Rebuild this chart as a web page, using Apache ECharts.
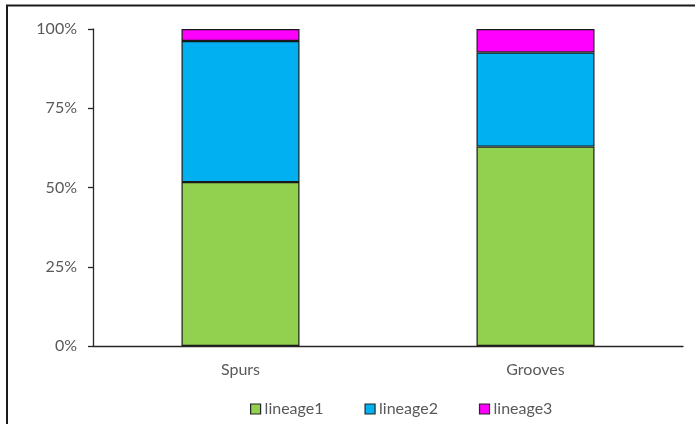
<!DOCTYPE html>
<html>
<head>
<meta charset="utf-8">
<script src="https://cdn.jsdelivr.net/npm/echarts@6/dist/echarts.min.js"></script>
<style>
  html, body { margin: 0; padding: 0; background: #fff; }
  #chart { width: 695px; height: 424px; }
</style>
</head>
<body>
<div id="chart"></div>
<script>
// Share of each lineage per habitat (percent, stacked to 100)
const categories = ['Spurs', 'Grooves'];
const lineage1 = [51.7, 62.9];
const lineage2 = [44.5, 29.7];
const lineage3 = [3.8, 7.4];
const seriesNames = ['lineage1', 'lineage2', 'lineage3'];
const seriesColors = ['#92D050', '#00B0F0', '#FF00FF'];
const yTicks = [0, 25, 50, 75, 100];

const font = 'Lato, "Open Sans", sans-serif';
const textGray = '#595959';

const chart = echarts.init(document.getElementById('chart'), null, { renderer: 'canvas' });

const seriesData = [lineage1, lineage2, lineage3];

chart.setOption({
  animation: false,
  backgroundColor: '#fff',
  grid: { left: 93, right: 12, top: 29, bottom: 78, containLabel: false },
  legend: {
    data: seriesNames,
    top: 396,
    left: 245,
    itemWidth: 10,
    itemHeight: 10,
    itemGap: 41,
    icon: 'rect',
    textStyle: { color: textGray, fontSize: 16, fontFamily: font, padding: [0, 0, 0, -1] },
    itemStyle: { borderColor: '#262626', borderWidth: 1.2 }
  },
  xAxis: {
    type: 'category',
    data: categories,
    axisLine: { show: true, lineStyle: { color: '#262626', width: 1.3 } },
    axisTick: { show: false },
    axisLabel: { color: textGray, fontSize: 16, fontFamily: font, margin: 16 }
  },
  yAxis: {
    type: 'value',
    min: yTicks[0],
    max: yTicks[yTicks.length - 1],
    interval: 25,
    axisLine: { show: true, lineStyle: { color: '#262626', width: 1.3 } },
    axisTick: { show: true, length: 5, lineStyle: { color: '#262626', width: 1.3 } },
    splitLine: { show: false },
    axisLabel: {
      color: textGray, fontSize: 16, fontFamily: font, margin: 16,
      formatter: v => v + '%'
    }
  },
  series: seriesNames.map((name, i) => ({
    name: name,
    type: 'bar',
    stack: 'total',
    barWidth: '40%',
    data: seriesData[i],
    itemStyle: { color: seriesColors[i], borderColor: '#1a1a1a', borderWidth: 1.2 }
  })),
  graphic: [
    {
      type: 'polyline',
      shape: { points: [[7, 424], [7, 5.5], [695, 5.5]] },
      style: { stroke: '#1a1a1a', lineWidth: 2, fill: null },
      silent: true
    }
  ]
});
</script>
</body>
</html>
